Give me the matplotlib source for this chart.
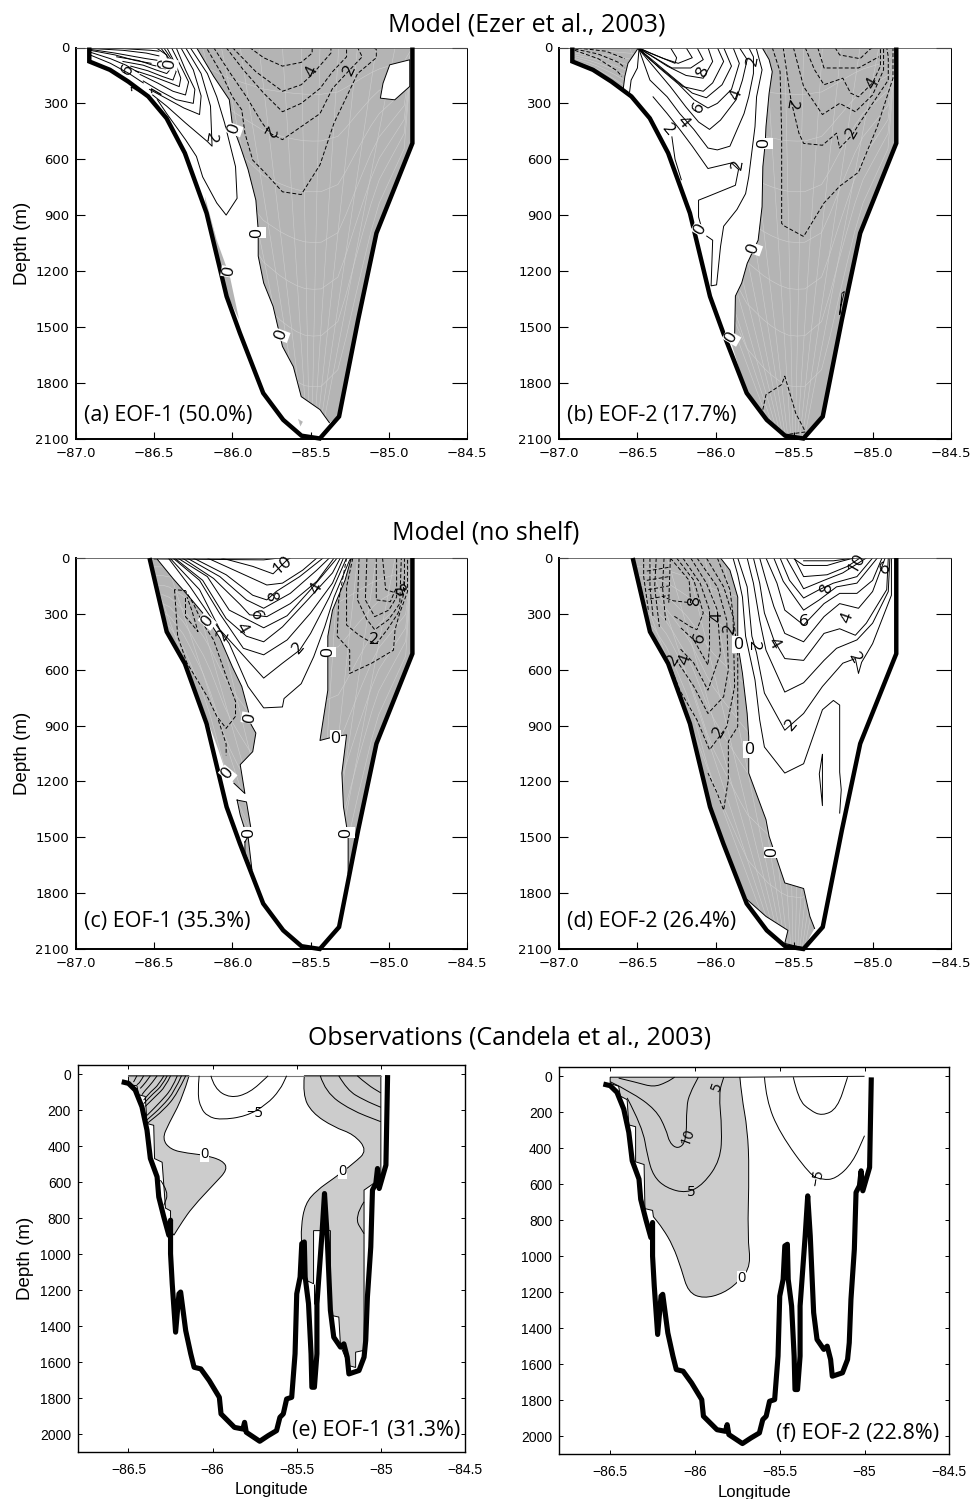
import numpy as np
import matplotlib
matplotlib.use('Agg')
from matplotlib import pyplot as plt
from matplotlib.patches import Polygon, PathPatch
from matplotlib.path import Path

plt.rcParams['font.family'] = ['Liberation Sans', 'DejaVu Sans']

# bottom topography, longitude / depth (m)
MODEL_LON = [-86.915, -86.915, -86.783, -86.666, -86.538, -86.421, -86.304, -86.165, -86.037, -85.952,
             -85.803, -85.675, -85.558, -85.441, -85.318, -85.196, -85.079, -84.849, -84.849]
MODEL_DEPTH = [0, 75, 120, 183, 263, 380, 567, 890, 1337, 1534, 1856, 2000, 2085, 2100, 1982, 1462, 997, 514, 0]
NOSHELF_LON = [-86.53, -86.42] + MODEL_LON[6:]
NOSHELF_DEPTH = [0, 396] + MODEL_DEPTH[6:]
OBS_LON = [-86.54, -86.50, -86.46, -86.42, -86.39, -86.37, -86.33, -86.32, -86.29, -86.26, -86.25, -86.25, -86.24,
           -86.22, -86.20, -86.19, -86.16, -86.13, -86.11, -86.07, -86.02, -85.96, -85.95, -85.87, -85.82, -85.81,
           -85.80, -85.72, -85.67, -85.62, -85.60, -85.58, -85.56, -85.53, -85.51, -85.50, -85.48, -85.47, -85.455,
           -85.45, -85.43, -85.415, -85.41, -85.395, -85.38, -85.38, -85.35, -85.335, -85.32, -85.30, -85.28, -85.24,
           -85.22, -85.20, -85.19, -85.13, -85.10, -85.09, -85.08, -85.06, -85.05, -85.03, -85.02, -85.01, -84.97, -84.96]
OBS_DEPTH = [43, 52, 89, 182, 312, 469, 571, 683, 794, 896, 812, 998, 1165,
             1434, 1221, 1211, 1425, 1554, 1629, 1638, 1703, 1796, 1888, 1963, 1972, 1935,
             1990, 2040, 2009, 1981, 1907, 1888, 1805, 1796, 1554, 1221, 1128, 942, 933,
             1128, 1276, 1554, 1740, 1740, 1554, 1276, 887, 664, 887, 1313, 1462, 1517,
             1499, 1573, 1666, 1647, 1573, 1480, 1239, 961, 645, 608, 525, 636, 506, 6]

# model grid, drawn faintly inside the shaded area
GRID_TOP_LON = [-86.55, -86.43, -86.31, -86.19, -86.07, -85.95, -85.83, -85.68, -85.56, -85.44, -85.32, -85.2, -85.08, -84.96]
GRID_SIGMA = [0.12, 0.24, 0.37, 0.5, 0.62, 0.74, 0.87]

# (a) Model EOF-1
A_ZERO = [(-86.23, 0), (-86.12, 155), (-86.02, 280), (-86.00, 415), (-85.95, 530), (-85.90, 655), (-85.85, 820),
          (-85.835, 980), (-85.835, 1120), (-85.80, 1265), (-85.74, 1390), (-85.68, 1605), (-85.61, 1715),
          (-85.56, 1875), (-85.44, 1945), (-85.38, 2015)]
A_HOLE = [(-84.994, 93), (-84.866, 66), (-84.866, 209), (-84.962, 281), (-85.054, 272), (-85.037, 192)]
A_SLIVER = [(-86.176, 800), (-86.101, 1033), (-86.016, 1230), (-85.957, 1462), (-86.037, 1319), (-86.165, 890)]
A_SPECK = [(-85.58, 1995), (-85.55, 2010), (-85.565, 2035)]
A_SOLID = [
    [(-86.27, 0), (-86.16, 140), (-86.10, 265), (-86.05, 405), (-85.98, 640), (-85.97, 810), (-86.04, 900), (-86.10, 835),
     (-86.19, 695), (-86.23, 585), (-86.30, 495), (-86.42, 355), (-86.48, 280)],
    [(-86.30, 0), (-86.20, 140), (-86.14, 315), (-86.13, 530), (-86.16, 505), (-86.30, 405), (-86.42, 315), (-86.51, 255)],
    [(-86.33, 0), (-86.25, 120), (-86.20, 260), (-86.21, 360), (-86.31, 325), (-86.43, 270), (-86.53, 225)],
    [(-86.36, 0), (-86.30, 120), (-86.24, 225), (-86.25, 300), (-86.36, 280), (-86.46, 235), (-86.57, 180)],
    [(-86.39, 0), (-86.33, 100), (-86.28, 185), (-86.30, 255), (-86.38, 235), (-86.48, 190), (-86.59, 145)],
    [(-86.42, 0), (-86.36, 95), (-86.33, 165), (-86.34, 210), (-86.40, 190), (-86.51, 155), (-86.62, 125)],
    [(-86.44, 0), (-86.38, 75), (-86.36, 130), (-86.38, 175), (-86.45, 155), (-86.54, 125), (-86.65, 100)],
    [(-86.46, 0), (-86.40, 65), (-86.39, 110), (-86.42, 140), (-86.49, 120), (-86.57, 95), (-86.70, 75)],
    [(-86.49, 0), (-86.42, 40), (-86.41, 85), (-86.43, 110), (-86.51, 95), (-86.60, 70), (-86.74, 50)],
    [(-86.91, 40), (-86.78, 85), (-86.66, 140), (-86.57, 190)],
    [(-86.91, 25), (-86.78, 60), (-86.68, 95), (-86.60, 135)],
    [(-86.91, 15), (-86.75, 40), (-86.62, 70), (-86.52, 85)],
    [(-86.91, 10), (-86.75, 30), (-86.55, 60), (-86.47, 70)],
    [(-86.91, 5), (-86.70, 15), (-86.55, 30), (-86.47, 45)],
    [(-86.91, 2), (-86.70, 6), (-86.52, 15), (-86.47, 20)],
]
A_DASHED = [
    [(-86.16, 10), (-86.07, 140), (-86.00, 265), (-85.94, 335), (-85.92, 460), (-85.87, 605), (-85.80, 665), (-85.68, 775),
     (-85.56, 790), (-85.44, 630), (-85.35, 405), (-85.27, 265), (-85.20, 140), (-85.08, 55), (-85.08, 10), (-85.10, 0)],
    [(-86.12, 0), (-86.02, 130), (-85.91, 265), (-85.81, 405), (-85.76, 460), (-85.68, 495), (-85.56, 425), (-85.44, 355),
     (-85.36, 220), (-85.25, 120), (-85.17, 50), (-85.20, 0)],
    [(-86.04, 0), (-85.93, 120), (-85.80, 245), (-85.68, 345), (-85.56, 300), (-85.44, 220), (-85.36, 130), (-85.27, 50), (-85.27, 0)],
    [(-86.00, 0), (-85.85, 130), (-85.68, 235), (-85.56, 200), (-85.49, 145), (-85.37, 30), (-85.37, 0)],
    [(-85.89, 0), (-85.80, 55), (-85.68, 100), (-85.56, 80), (-85.49, 30), (-85.49, 0)],
]
A_LABELS = [(-85.99, 440, '0', 70), (-85.84, 995, '0', 90), (-86.02, 1205, '0', 80), (-85.69, 1545, '0', 70),
            (-86.43, 90, '0', 80), (-86.40, 90, '0', 80), (-86.14, 480, '2', 260), (-85.77, 445, '2', 240),
            (-85.49, 130, '4', 65), (-85.25, 125, '2', 65), (-86.67, 120, '6', 60), (-86.61, 225, '1', 60), (-86.48, 235, '1', 60)]

# (b) Model EOF-2
B_ZERO = [(-85.705, 0), (-85.66, 65), (-85.64, 130), (-85.66, 245), (-85.68, 425), (-85.685, 515), (-85.70, 640),
          (-85.705, 855), (-85.73, 1035), (-85.80, 1160), (-85.835, 1265), (-85.875, 1335), (-85.88, 1550), (-85.90, 1590)]
B_SHELF = [(-86.91, 0), (-86.91, 70), (-86.80, 120), (-86.66, 183), (-86.59, 220), (-86.58, 155), (-86.56, 85), (-86.50, 10), (-86.50, 0)]
B_ISLAND = [(-85.18, 1310), (-85.195, 1320), (-85.21, 1435), (-85.20, 1380)]
B_SOLID = [
    [(-85.74, 10), (-85.705, 120), (-85.74, 265), (-85.75, 425), (-85.79, 695), (-85.81, 785), (-85.865, 870), (-85.95, 960),
     (-85.97, 1070), (-85.995, 1275), (-86.03, 1280), (-86.02, 1035), (-86.08, 1000), (-86.11, 910), (-86.11, 820), (-86.05, 800),
     (-85.875, 740), (-85.855, 655), (-85.90, 620), (-86.05, 650), (-86.15, 530), (-86.23, 440), (-86.31, 355), (-86.40, 265)],
    [(-86.28, 480), (-86.26, 600), (-86.22, 710)],
    [(-85.79, 0), (-85.76, 50), (-85.76, 140), (-85.79, 265), (-85.82, 355), (-85.91, 530), (-85.99, 550), (-86.05, 540),
     (-86.14, 440), (-86.23, 355), (-86.31, 265), (-86.42, 175), (-86.49, 10)],
    [(-85.85, 0), (-85.80, 65), (-85.83, 175), (-85.87, 280), (-85.97, 390), (-86.04, 440), (-86.11, 400), (-86.19, 320),
     (-86.29, 210), (-86.38, 120), (-86.49, 10)],
    [(-85.89, 0), (-85.85, 85), (-85.90, 225), (-85.99, 300), (-86.05, 325), (-86.14, 280), (-86.24, 195), (-86.36, 110), (-86.49, 8)],
    [(-85.95, 0), (-85.90, 100), (-85.96, 200), (-86.06, 270), (-86.15, 245), (-86.26, 170), (-86.38, 85), (-86.49, 7)],
    [(-85.99, 0), (-85.95, 75), (-86.02, 190), (-86.08, 235), (-86.21, 210), (-86.31, 140), (-86.42, 65), (-86.49, 6)],
    [(-86.05, 0), (-86.02, 75), (-86.08, 165), (-86.19, 150), (-86.31, 100), (-86.42, 40), (-86.49, 5)],
    [(-86.12, 0), (-86.08, 65), (-86.16, 110), (-86.28, 110), (-86.40, 50), (-86.49, 4)],
    [(-86.19, 0), (-86.15, 55), (-86.24, 85), (-86.33, 60), (-86.42, 30), (-86.49, 3)],
    [(-86.29, 0), (-86.25, 55), (-86.26, 85), (-86.36, 50), (-86.49, 3)],
    [(-86.49, 10), (-86.50, 110), (-86.54, 175), (-86.55, 240)],
]
B_DASHED = [
    [(-86.90, 15), (-86.75, 60), (-86.63, 125), (-86.60, 155)],
    [(-86.90, 8), (-86.75, 35), (-86.62, 80), (-86.58, 110)],
    [(-86.88, 3), (-86.70, 20), (-86.58, 60)],
    [(-85.64, 0), (-85.59, 130), (-85.58, 460), (-85.58, 945), (-85.56, 960), (-85.44, 1015), (-85.31, 835), (-85.21, 745),
     (-85.09, 670), (-84.97, 425), (-84.87, 165), (-84.87, 50), (-84.87, 0)],
    [(-85.57, 0), (-85.54, 175), (-85.52, 285), (-85.47, 460), (-85.44, 515), (-85.32, 525), (-85.23, 460), (-85.21, 540),
     (-85.13, 470), (-85.09, 415), (-85.00, 300), (-84.90, 175), (-84.90, 50), (-84.91, 0)],
    [(-85.505, 0), (-85.44, 210), (-85.32, 360), (-85.21, 300), (-85.11, 345), (-85.00, 255), (-84.93, 120), (-84.93, 0)],
    [(-85.43, 0), (-85.37, 120), (-85.31, 200), (-85.19, 165), (-85.14, 245), (-85.09, 265), (-85.00, 190), (-84.95, 100), (-84.95, 0)],
    [(-85.35, 0), (-85.31, 110), (-85.09, 110), (-84.96, 50)],
    [(-85.24, 0), (-85.21, 40), (-85.08, 60), (-85.02, 12), (-85.00, 0)],
    [(-85.70, 1945), (-85.68, 1865), (-85.58, 1810), (-85.56, 1765), (-85.49, 1965), (-85.44, 2045), (-85.43, 2065), (-85.56, 2080)],
]
B_LABELS = [(-85.69, 515, '0', 90), (-85.76, 1080, '0', 70), (-85.90, 1560, '0', 60), (-86.10, 980, '0', 60),
            (-85.86, 635, '2', 80), (-85.87, 255, '4', 70), (-86.11, 325, '6', 60), (-86.08, 130, '8', 70),
            (-86.21, 400, '4', -50), (-86.31, 440, '2', -50), (-85.76, 75, '2', 80), (-85.52, 300, '2', 260),
            (-85.00, 195, '4', 60), (-85.13, 465, '2', 60)]

# (c) no shelf EOF-1
C_LEFT = [(-86.53, 0), (-86.48, 7), (-86.38, 110), (-86.27, 215), (-86.16, 325), (-86.08, 430), (-86.00, 585), (-85.94, 690),
          (-85.90, 815), (-85.88, 895), (-85.85, 940), (-85.87, 1040), (-85.95, 1110), (-85.92, 1265), (-85.99, 1210),
          (-86.04, 1155), (-86.09, 1030), (-86.16, 870), (-86.30, 565), (-86.42, 395)]
C_MID = [(-85.97, 1300), (-85.91, 1310), (-85.88, 1460), (-85.92, 1460), (-85.95, 1380)]
C_LOW = [(-85.92, 1525), (-85.90, 1495), (-85.875, 1675), (-85.92, 1585)]
C_RIGHT = [(-85.24, 0), (-85.28, 120), (-85.36, 280), (-85.39, 420), (-85.39, 565), (-85.39, 710), (-85.44, 980), (-85.35, 960),
           (-85.27, 950), (-85.30, 1155), (-85.29, 1335), (-85.26, 1495), (-85.26, 1695)]
C_SOLID = [
    [(-86.41, 0), (-86.27, 155), (-86.14, 315), (-86.02, 460), (-85.90, 690), (-85.80, 805), (-85.68, 800), (-85.67, 755),
     (-85.56, 675), (-85.48, 530), (-85.41, 370), (-85.35, 210), (-85.25, 10), (-85.23, 0)],
    [(-86.40, 0), (-86.21, 170), (-86.08, 385), (-85.95, 505), (-85.80, 645), (-85.68, 565), (-85.57, 495), (-85.50, 405), (-85.38, 210), (-85.27, 0)],
    [(-86.38, 0), (-86.21, 120), (-86.08, 300), (-85.93, 485), (-85.80, 520), (-85.65, 440), (-85.50, 295), (-85.36, 135), (-85.29, 0)],
    [(-86.37, 0), (-86.19, 120), (-86.04, 325), (-85.91, 420), (-85.80, 450), (-85.68, 370), (-85.53, 235), (-85.36, 80), (-85.31, 0)],
    [(-86.35, 0), (-86.16, 100), (-86.02, 280), (-85.80, 375), (-85.65, 310), (-85.50, 170), (-85.33, 0)],
    [(-86.32, 0), (-86.12, 110), (-85.95, 250), (-85.89, 305), (-85.78, 315), (-85.63, 245), (-85.46, 125), (-85.35, 0)],
    [(-86.29, 0), (-86.08, 100), (-85.91, 225), (-85.80, 270), (-85.63, 190), (-85.46, 65), (-85.38, 0)],
    [(-86.25, 0), (-86.04, 90), (-85.87, 200), (-85.78, 225), (-85.72, 180), (-85.57, 100), (-85.42, 0)],
    [(-86.16, 0), (-85.95, 80), (-85.78, 145), (-85.68, 135), (-85.55, 65), (-85.46, 0)],
    [(-86.07, 0), (-85.87, 45), (-85.74, 85), (-85.65, 10), (-85.63, 0)],
    [(-86.50, 5), (-85.80, 10), (-85.70, 0)],
]
C_DASHED = [
    [(-86.37, 170), (-86.35, 420), (-86.29, 565), (-86.16, 745), (-86.10, 850), (-86.04, 915), (-85.98, 850), (-85.98, 770),
     (-86.04, 635), (-86.12, 440), (-86.19, 350), (-86.25, 245), (-86.30, 175), (-86.37, 170)],
    [(-86.30, 215), (-86.30, 315), (-86.22, 395), (-86.26, 280), (-86.29, 210)],
    [(-86.09, 870), (-86.04, 1000), (-86.04, 1060)],
    [(-85.27, 0), (-85.32, 225), (-85.33, 420), (-85.25, 495), (-85.25, 620), (-85.11, 565), (-84.97, 495), (-84.96, 385), (-84.93, 295), (-84.88, 180), (-84.88, 0)],
    [(-85.23, 0), (-85.27, 155), (-85.27, 360), (-85.19, 415), (-85.14, 440), (-85.08, 460), (-85.01, 385), (-84.94, 295), (-84.90, 180), (-84.90, 0)],
    [(-85.19, 0), (-85.20, 225), (-85.14, 330), (-85.09, 385), (-85.00, 330), (-84.93, 245), (-84.92, 0)],
    [(-85.14, 0), (-85.15, 225), (-85.09, 315), (-85.00, 280), (-84.95, 210), (-84.95, 0)],
    [(-85.08, 0), (-85.08, 225), (-84.99, 235), (-84.95, 155)],
    [(-85.04, 0), (-85.02, 170), (-84.91, 200), (-84.90, 100)],
]
C_LABELS = [(-86.16, 340, '0', 50), (-85.89, 860, '0', 80), (-86.03, 1160, '0', 50), (-85.89, 1475, '0', 90), (-85.39, 505, '0', 90),
            (-85.34, 970, '0', 0), (-85.27, 1475, '0', 90), (-86.06, 415, '2', 60), (-85.94, 380, '4', -60), (-85.85, 310, '6', -70),
            (-85.76, 205, '8', -80), (-85.68, 40, '10', 40), (-85.46, 165, '4', 60), (-85.58, 485, '2', 50), (-85.10, 440, '2', 0),
            (-84.94, 180, '8', -40)]

# (d) no shelf EOF-2
D_ZERO = [(-85.97, 0), (-85.91, 65), (-85.86, 210), (-85.86, 460), (-85.83, 620), (-85.80, 835), (-85.79, 960), (-85.79, 1155),
          (-85.68, 1405), (-85.66, 1495), (-85.56, 1745), (-85.44, 1775), (-85.40, 1925), (-85.37, 1990)]
D_CLOSE = [(-85.44, 2095), (-85.56, 2070), (-85.54, 2000), (-85.68, 1925), (-85.80, 1835), (-85.952, 1534), (-86.037, 1337),
           (-86.165, 890), (-86.304, 566), (-86.42, 396), (-86.53, 0)]
D_SOLID = [
    [(-85.89, 0), (-85.86, 90), (-85.83, 210), (-85.81, 420), (-85.75, 655), (-85.72, 870), (-85.69, 1015), (-85.56, 1155),
     (-85.44, 1105), (-85.32, 815), (-85.25, 765), (-85.21, 790), (-85.21, 1150), (-85.20, 1245), (-85.21, 1370)],
    [(-85.86, 0), (-85.80, 155), (-85.77, 420), (-85.74, 510), (-85.69, 725), (-85.56, 925), (-85.44, 835), (-85.32, 690), (-85.19, 565),
     (-85.11, 540), (-85.09, 620), (-85.07, 560), (-85.00, 460), (-84.88, 200), (-84.88, 0)],
    [(-85.80, 0), (-85.76, 135), (-85.72, 335), (-85.68, 495), (-85.56, 720), (-85.44, 670), (-85.31, 550), (-85.23, 485), (-85.10, 440),
     (-85.00, 350), (-84.90, 180), (-84.89, 0)],
    [(-85.76, 0), (-85.72, 135), (-85.69, 295), (-85.63, 440), (-85.56, 540), (-85.44, 550), (-85.31, 405), (-85.21, 380), (-85.11, 415),
     (-85.04, 350), (-84.91, 170), (-84.90, 0)],
    [(-85.72, 0), (-85.68, 120), (-85.63, 260), (-85.56, 405), (-85.44, 450), (-85.31, 315), (-85.21, 245), (-85.09, 270), (-85.00, 180), (-84.92, 0)],
    [(-85.68, 0), (-85.61, 135), (-85.56, 280), (-85.47, 340), (-85.44, 360), (-85.31, 245), (-85.21, 190), (-85.10, 190), (-85.00, 120), (-84.94, 0)],
    [(-85.63, 0), (-85.57, 125), (-85.44, 280), (-85.34, 225), (-85.23, 155), (-85.10, 135), (-84.97, 0)],
    [(-85.59, 0), (-85.53, 120), (-85.44, 215), (-85.34, 170), (-85.25, 135), (-85.10, 100), (-85.00, 0)],
    [(-85.55, 0), (-85.44, 165), (-85.31, 120), (-85.19, 80), (-85.04, 0)],
    [(-85.50, 0), (-85.44, 100), (-85.29, 90), (-85.16, 45), (-85.08, 0)],
    [(-85.50, 5), (-85.44, 40), (-85.29, 40), (-85.21, 20), (-85.12, 0)],
    [(-85.44, 15), (-85.25, 15), (-85.12, 0)],
    [(-85.32, 1055), (-85.34, 1160), (-85.32, 1330), (-85.32, 1160), (-85.32, 1055)],
]
D_DASHED = [
    [(-85.99, 0), (-85.91, 170), (-85.86, 510), (-85.86, 905), (-85.92, 985), (-85.92, 1190), (-85.95, 1355), (-85.99, 1265), (-86.05, 1155)],
    [(-86.06, 0), (-85.95, 155), (-85.89, 315), (-85.88, 690), (-85.93, 905), (-86.04, 1030), (-86.12, 870), (-86.23, 710), (-86.29, 580)],
    [(-86.12, 0), (-85.99, 155), (-85.93, 335), (-85.92, 600), (-85.95, 745), (-86.05, 835), (-86.14, 690), (-86.25, 550)],
    [(-86.16, 0), (-86.06, 135), (-85.99, 280), (-85.97, 510), (-86.05, 710), (-86.14, 565), (-86.23, 485)],
    [(-86.21, 0), (-86.10, 135), (-86.04, 280), (-86.04, 475), (-86.05, 575), (-86.14, 440), (-86.23, 370)],
    [(-86.25, 0), (-86.14, 120), (-86.08, 295), (-86.12, 385), (-86.16, 370), (-86.27, 310)],
    [(-86.29, 0), (-86.17, 120), (-86.16, 240), (-86.27, 230), (-86.33, 210)],
    [(-86.29, 0), (-86.30, 240)],
    [(-86.33, 0), (-86.34, 155), (-86.32, 335)],
    [(-86.38, 0), (-86.39, 155), (-86.36, 370)],
    [(-86.42, 0), (-86.42, 155), (-86.40, 315)],
    [(-86.46, 0), (-86.46, 100), (-86.43, 280)],
    [(-86.44, 70), (-86.30, 50)],
    [(-86.44, 120), (-86.30, 100)],
    [(-86.43, 170), (-86.30, 150)],
    [(-86.42, 220), (-86.30, 200)],
]
D_LABELS = [(-86.13, 230, '8', 90), (-85.99, 315, '4', 90), (-85.91, 385, '2', 80), (-86.10, 430, '6', 70), (-86.19, 550, '4', 70),
            (-86.27, 550, '2', 60), (-85.98, 940, '2', 60), (-85.86, 465, '0', 0), (-85.76, 465, '2', 270), (-85.63, 460, '4', -60),
            (-85.52, 900, '2', 50), (-85.79, 1030, '0', 0), (-85.64, 1580, '0', 90), (-85.12, 535, '2', -60), (-85.16, 320, '4', 70),
            (-85.44, 345, '6', 0), (-85.29, 165, '8', 80), (-85.10, 30, '10', 60), (-84.92, 60, '6', 30)]

# (e) observations EOF-1: curved part of each zero contour, then its stepped edge along the bottom
E_LEFT_EDGE = [(-86.14, 10), (-86.18, 135), (-86.26, 275), (-86.30, 360), (-86.25, 420), (-86.15, 440), (-86.05, 450), (-85.94, 480),
               (-85.91, 530), (-85.99, 610), (-86.12, 740), (-86.18, 820), (-86.23, 895)]
E_LEFT_STEPS = [(-86.25, 870), (-86.25, 760), (-86.28, 745), (-86.30, 490), (-86.345, 470), (-86.35, 285), (-86.39, 275),
                (-86.40, 125), (-86.44, 115), (-86.45, 65), (-86.50, 60), (-86.50, 10)]
E_RIGHT_EDGE = [(-85.455, 10), (-85.465, 115), (-85.41, 215), (-85.28, 295), (-85.16, 335), (-85.08, 425), (-85.16, 495), (-85.28, 580),
                (-85.38, 645), (-85.45, 720), (-85.475, 850), (-85.47, 960), (-85.47, 1135)]
E_RIGHT_STEPS = [(-85.40, 1165), (-85.40, 870), (-85.30, 870), (-85.30, 1340), (-85.25, 1350), (-85.24, 1510), (-85.19, 1620),
                 (-85.15, 1630), (-85.15, 1545), (-85.10, 1535), (-85.10, 645), (-85.00, 580), (-85.00, 10)]
E_SOLID = [
    [(-86.16, 10), (-86.21, 110), (-86.29, 200), (-86.39, 275)],
    [(-86.185, 10), (-86.225, 95), (-86.30, 180), (-86.39, 255)],
    [(-86.21, 10), (-86.24, 80), (-86.31, 155), (-86.39, 230)],
    [(-86.25, 10), (-86.28, 70), (-86.34, 125), (-86.40, 180)],
    [(-86.27, 10), (-86.30, 65), (-86.355, 110), (-86.41, 165)],
    [(-86.29, 10), (-86.32, 60), (-86.37, 100), (-86.41, 145)],
    [(-86.33, 10), (-86.36, 50), (-86.40, 90), (-86.42, 115)],
    [(-86.37, 10), (-86.40, 50), (-86.43, 80)],
    [(-86.41, 10), (-86.43, 45), (-86.45, 60)],
    [(-86.45, 10), (-86.47, 45)],
    [(-86.08, 10), (-86.09, 110), (-86.07, 190), (-86.03, 235), (-85.955, 255), (-85.80, 235), (-85.68, 170), (-85.60, 90), (-85.56, 10)],
    [(-86.01, 10), (-85.99, 80), (-85.895, 135), (-85.78, 105), (-85.67, 10)],
    [(-85.36, 10), (-85.33, 100), (-85.18, 200), (-85.00, 265)],
    [(-85.25, 10), (-85.20, 90), (-85.10, 145), (-85.00, 185)],
    [(-85.14, 10), (-85.08, 60), (-85.00, 105)],
    [(-86.31, 590), (-86.26, 655), (-86.29, 730)],
    [(-85.10, 710), (-85.16, 795), (-85.10, 887)],
    [(-85.40, 1165), (-85.40, 1280)],
]
E_LABELS = [(-86.05, 445, '0', 0), (-85.23, 540, '0', 0), (-85.75, 220, '\u22125', 0)]

# (f) observations EOF-2
F_EDGE = [(-85.735, 5), (-85.725, 110), (-85.69, 295), (-85.68, 520), (-85.69, 890), (-85.67, 1050), (-85.735, 1135), (-85.83, 1205),
          (-85.95, 1235), (-86.04, 1200), (-86.08, 1070), (-86.13, 940), (-86.19, 845), (-86.245, 780)]
F_STEPS = [(-86.25, 745), (-86.295, 735), (-86.30, 490), (-86.35, 475), (-86.35, 280), (-86.39, 270), (-86.40, 130), (-86.44, 110),
           (-86.45, 55), (-86.50, 40), (-86.50, 5)]
F_SOLID = [
    [(-86.45, 10), (-86.34, 35), (-86.245, 60), (-86.17, 35), (-86.12, 5)],
    [(-86.50, 30), (-86.38, 85), (-86.23, 185), (-86.17, 295), (-86.15, 370), (-86.10, 405), (-86.05, 360), (-86.05, 165), (-86.03, 95), (-85.98, 5)],
    [(-86.40, 120), (-86.31, 280), (-86.28, 445), (-86.245, 555), (-86.17, 620), (-86.05, 650), (-85.95, 600), (-85.85, 465), (-85.84, 295), (-85.86, 95), (-85.83, 5)],
    [(-85.59, 5), (-85.58, 130), (-85.50, 315), (-85.32, 550), (-85.25, 575), (-85.17, 570), (-85.07, 480), (-85.00, 330)],
    [(-85.42, 5), (-85.39, 130), (-85.32, 190), (-85.25, 220), (-85.16, 180), (-85.10, 5)],
    [(-85.735, 5), (-85.00, 0)],
]
F_LABELS = [(-85.87, 60, '5', 70), (-86.04, 335, '10', 70), (-86.02, 645, '5', 0), (-85.725, 1125, '0', 0), (-85.27, 565, '\u22125', 80)]

MODEL_XTICKS = [-87.0, -86.5, -86.0, -85.5, -85.0, -84.5]
MODEL_XLABELS = ['\u221287.0', '\u221286.5', '\u221286.0', '\u221285.5', '\u221285.0', '\u221284.5']
MODEL_YTICKS = [0, 300, 600, 900, 1200, 1500, 1800, 2100]
OBS_XTICKS = [-86.5, -86, -85.5, -85, -84.5]
OBS_XLABELS = ['\u221286.5', '\u221286', '\u221285.5', '\u221285', '\u221284.5']
OBS_YTICKS = [0, 200, 400, 600, 800, 1000, 1200, 1400, 1600, 1800, 2000]

W, H = 973, 1499
MODEL_GRAY = '#b4b4b4'
OBS_GRAY = '#cccccc'
TITLE_FONT = ['Open Sans', 'DejaVu Sans']
TITLE_SIZE = 18
PANEL_SIZE = 15.5


def make_axes(fig, left, right, top, bottom):
    return fig.add_axes([left / W, 1 - bottom / H, (right - left) / W, (bottom - top) / H])


def add_lines(ax, lines, dashed=False):
    for line in lines:
        lon, dep = zip(*line)
        if dashed:
            ax.plot(lon, dep, color='k', lw=0.7, ls=(0, (4, 2.2)))
        else:
            ax.plot(lon, dep, color='k', lw=0.7)


def curve_path(points):
    # read points act as control points of a smooth curve, obs contours are not angular
    verts = [points[0]]
    codes = [Path.MOVETO]
    for p, q in zip(points[1:-1], points[2:]):
        verts += [p, ((p[0] + q[0]) / 2, (p[1] + q[1]) / 2)]
        codes += [Path.CURVE3, Path.CURVE3]
    verts.append(points[-1])
    codes.append(Path.LINETO)
    return verts, codes


def add_curves(ax, lines):
    for line in lines:
        verts, codes = curve_path(line)
        ax.add_patch(PathPatch(Path(verts, codes), fc='none', ec='k', lw=0.7, zorder=2))


def add_region(ax, edge, steps):
    verts, codes = curve_path(edge)
    verts = verts + steps + [edge[0]]
    codes = codes + [Path.LINETO] * len(steps) + [Path.CLOSEPOLY]
    ax.add_patch(PathPatch(Path(verts, codes), fc=OBS_GRAY, ec='k', lw=0.7, zorder=1))


def add_labels(ax, labels, size=12.5):
    for lon, dep, text, rot in labels:
        bbox = dict(fc='white', ec='none', pad=0.2) if text == '0' else None
        ax.text(lon, dep, text, rotation=rot, ha='center', va='center', fontsize=size, bbox=bbox, zorder=5,
                family=TITLE_FONT)


def below_tail(bath_lon, bath_dep, start):
    # the part of the bottom line east of a zero contour, used to close the shading
    return [(x, d) for x, d in zip(bath_lon, bath_dep) if x > start]


def shade_with_grid(ax, polys, bath_lon, bath_dep):
    verts = [Path(np.array(p + [p[0]])) for p in polys]
    patch = PathPatch(Path.make_compound_path(*verts), fc=MODEL_GRAY, ec='none', zorder=1)
    ax.add_patch(patch)
    grid_lon = np.linspace(min(bath_lon), max(bath_lon), 40)
    grid_dep = np.interp(grid_lon, bath_lon[1:], bath_dep[1:])
    for s in GRID_SIGMA:
        ln, = ax.plot(grid_lon, s * grid_dep, color='#cecece', lw=0.4, zorder=1.5)
        ln.set_clip_path(patch)
    for top in GRID_TOP_LON:
        end = -85.5 + (top + 85.5) * 0.12
        ln, = ax.plot([top, end], [0, 2100], color='#cecece', lw=0.4, zorder=1.5)
        ln.set_clip_path(patch)


def style_model_axes(ax):
    ax.set_xlim(-87, -84.5)
    ax.set_ylim(2100, 0)
    ax.set_xticks(MODEL_XTICKS, MODEL_XLABELS)
    ax.set_yticks(MODEL_YTICKS)
    ax.tick_params(axis='y', direction='in', length=6.5, width=0.8, right=True, labelsize=9.5, pad=5)
    ax.tick_params(axis='x', direction='in', length=5, width=0.8, labelsize=9.5, pad=6)
    for t in ax.yaxis.get_major_ticks():
        t.tick2line.set_markersize(11)
    for lab in ax.get_xticklabels() + ax.get_yticklabels():
        lab.set_family(['DejaVu Sans'])
    ax.spines['left'].set_linewidth(1.4)
    ax.spines['bottom'].set_linewidth(1.4)
    ax.spines['top'].set_linewidth(0.6)
    ax.spines['top'].set_color('#555555')
    ax.spines['right'].set_linewidth(0.7)


def style_obs_axes(ax):
    ax.set_xlim(-86.8, -84.5)
    ax.set_ylim(2098, -50)
    ax.set_xticks(OBS_XTICKS, OBS_XLABELS)
    ax.set_yticks(OBS_YTICKS)
    ax.tick_params(direction='in', length=3, width=0.7, top=True, right=True, labelsize=10, pad=5)
    ax.tick_params(axis='x', pad=8)
    for sp in ax.spines.values():
        sp.set_linewidth(1.0)
    ax.set_xlabel('Longitude', fontsize=12, labelpad=4)


def bottom_line(ax, lon, dep, lw=3.2, round_join=False):
    ax.plot(lon, dep, color='k', lw=lw, zorder=4, clip_on=False,
            solid_joinstyle='round' if round_join else 'miter', solid_capstyle='butt')


fig = plt.figure(figsize=(W / 100, H / 100), dpi=100)

# (a)
ax_a = make_axes(fig, 76, 467, 47.5, 438.5)
a_poly = A_ZERO + below_tail(MODEL_LON, MODEL_DEPTH, -85.36)
shade_with_grid(ax_a, [a_poly, A_SLIVER, A_SPECK], MODEL_LON, MODEL_DEPTH)
ax_a.add_patch(Polygon(A_HOLE, fc='white', ec='k', lw=0.7, zorder=2))
ax_a.plot(*zip(*A_ZERO), color='k', lw=0.7)
add_lines(ax_a, A_SOLID)
add_lines(ax_a, A_DASHED, dashed=True)
add_labels(ax_a, A_LABELS)
bottom_line(ax_a, MODEL_LON, MODEL_DEPTH)
style_model_axes(ax_a)
ax_a.set_ylabel('Depth (m)', fontsize=13.5, labelpad=3)
ax_a.text(-86.95, 1974, '(a) EOF-1 (50.0%)', fontsize=PANEL_SIZE, family=TITLE_FONT, va='center')

# (b)
ax_b = make_axes(fig, 559, 951, 47.5, 438.5)
b_poly = B_ZERO + below_tail(MODEL_LON, MODEL_DEPTH, -85.90)
shade_with_grid(ax_b, [b_poly, B_SHELF], MODEL_LON, MODEL_DEPTH)
ax_b.add_patch(Polygon(B_ISLAND, fc='white', ec='k', lw=0.7, zorder=2))
ax_b.plot(*zip(*B_ZERO), color='k', lw=0.7)
ax_b.plot(*zip(*B_SHELF[3:]), color='k', lw=0.7)
add_lines(ax_b, B_SOLID)
add_lines(ax_b, B_DASHED, dashed=True)
add_labels(ax_b, B_LABELS)
bottom_line(ax_b, MODEL_LON, MODEL_DEPTH)
style_model_axes(ax_b)
ax_b.text(-86.95, 1974, '(b) EOF-2 (17.7%)', fontsize=PANEL_SIZE, family=TITLE_FONT, va='center')

# (c)
ax_c = make_axes(fig, 76, 467, 558, 949)
c_poly = C_RIGHT + below_tail(NOSHELF_LON, NOSHELF_DEPTH, -85.26)
shade_with_grid(ax_c, [C_LEFT, C_MID, C_LOW, c_poly], NOSHELF_LON, NOSHELF_DEPTH)
for poly in [C_LEFT[1:15], C_MID + C_MID[:1], C_LOW + C_LOW[:1], C_RIGHT]:
    ax_c.plot(*zip(*poly), color='k', lw=0.7)
add_lines(ax_c, C_SOLID)
add_lines(ax_c, C_DASHED, dashed=True)
add_labels(ax_c, C_LABELS)
bottom_line(ax_c, NOSHELF_LON, NOSHELF_DEPTH)
style_model_axes(ax_c)
ax_c.set_ylabel('Depth (m)', fontsize=13.5, labelpad=3)
ax_c.text(-86.95, 1950, '(c) EOF-1 (35.3%)', fontsize=PANEL_SIZE, family=TITLE_FONT, va='center')

# (d)
ax_d = make_axes(fig, 559, 951, 558, 949)
shade_with_grid(ax_d, [D_ZERO + D_CLOSE], NOSHELF_LON, NOSHELF_DEPTH)
ax_d.plot(*zip(*D_ZERO), color='k', lw=0.7)
ax_d.plot(*zip(*D_CLOSE[:5]), color='k', lw=0.7)
add_lines(ax_d, D_SOLID)
add_lines(ax_d, D_DASHED, dashed=True)
add_labels(ax_d, D_LABELS)
bottom_line(ax_d, NOSHELF_LON, NOSHELF_DEPTH)
style_model_axes(ax_d)
ax_d.text(-86.95, 1950, '(d) EOF-2 (26.4%)', fontsize=PANEL_SIZE, family=TITLE_FONT, va='center')

# (e)
ax_e = make_axes(fig, 78, 465, 1065, 1451.7)
add_region(ax_e, E_LEFT_EDGE, E_LEFT_STEPS)
add_region(ax_e, E_RIGHT_EDGE, E_RIGHT_STEPS)
ax_e.plot([-86.5, -85.0], [10, 10], color='#777777', lw=0.8, zorder=1.5)
add_curves(ax_e, E_SOLID)
add_labels(ax_e, E_LABELS, size=10.5)
bottom_line(ax_e, OBS_LON, OBS_DEPTH, lw=3.7, round_join=True)
style_obs_axes(ax_e)
ax_e.set_ylabel('Depth (m)', fontsize=13.5, labelpad=4)
ax_e.text(-85.526, 1981, '(e) EOF-1 (31.3%)', fontsize=PANEL_SIZE, family=TITLE_FONT, va='center')

# (f)
ax_f = make_axes(fig, 559.3, 949.3, 1067.3, 1454)
add_region(ax_f, F_EDGE, F_STEPS)
add_curves(ax_f, F_SOLID)
add_labels(ax_f, F_LABELS, size=10.5)
bottom_line(ax_f, OBS_LON, OBS_DEPTH, lw=3.7, round_join=True)
style_obs_axes(ax_f)
ax_f.text(-85.524, 1983, '(f) EOF-2 (22.8%)', fontsize=PANEL_SIZE, family=TITLE_FONT, va='center')

fig.text(527 / W, 1 - 25 / H, 'Model (Ezer et al., 2003)', ha='center', va='center', fontsize=TITLE_SIZE, family=TITLE_FONT)
fig.text(486 / W, 1 - 533 / H, 'Model (no shelf)', ha='center', va='center', fontsize=TITLE_SIZE, family=TITLE_FONT)
fig.text(510 / W, 1 - 1038 / H, 'Observations (Candela et al., 2003)', ha='center', va='center', fontsize=TITLE_SIZE, family=TITLE_FONT)

fig.savefig('out.png', dpi=100)
